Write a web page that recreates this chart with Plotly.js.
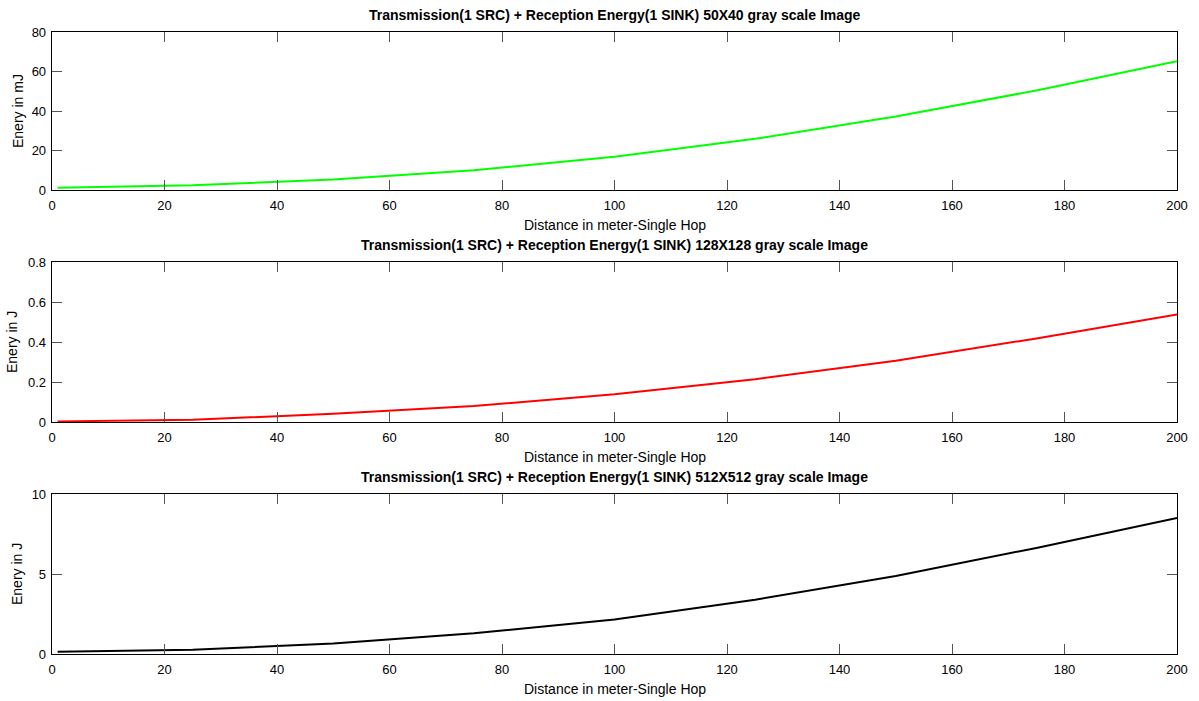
<!DOCTYPE html>
<html>
<head>
<meta charset="utf-8">
<script src="https://cdn.plot.ly/plotly-3.0.1.min.js"></script>
<style>html,body{margin:0;padding:0;background:#fff;}#chart{width:1199px;height:701px;}</style>
</head>
<body>
<div id="chart"></div>
<script>
// Distance in meters (single hop)
const distance = [1, 25, 50, 75, 100, 125, 150, 175, 200];
// 50X40 gray scale image energy (mJ)
const energy50x40 = [1.2, 2.4, 5.3, 10.0, 16.8, 25.9, 37.2, 50.4, 65.2];
// 128X128 gray scale image energy (J)
const energy128 = [0.003, 0.011, 0.041, 0.080, 0.139, 0.214, 0.306, 0.418, 0.537];
// 512X512 gray scale image energy (J)
const energy512 = [0.14, 0.26, 0.66, 1.30, 2.15, 3.39, 4.88, 6.63, 8.50];

const titles = [
  "Transmission(1 SRC) + Reception Energy(1 SINK) 50X40 gray scale Image",
  "Transmission(1 SRC) + Reception Energy(1 SINK) 128X128 gray scale Image",
  "Transmission(1 SRC) + Reception Energy(1 SINK) 512X512 gray scale Image"
];
const yTitles = ["Enery in mJ", "Enery in J", "Enery in J"];
const xTitle = "Distance in meter-Single Hop";
const xTicks = [0, 20, 40, 60, 80, 100, 120, 140, 160, 180, 200];

const FONT = "Liberation Sans, Arial, sans-serif";
const W = 1199, H = 701;
const mL = 52, mR = 22, mT = 32, mB = 47;
const plotH = H - mT - mB;
// pixel extents of each panel (top, bottom)
const panels = [[32, 190], [262, 422], [494, 654]];
const dom = panels.map(p => [(H - mB - p[1]) / plotH, (H - mB - p[0]) / plotH]);

function xaxis(anchor) {
  return {
    domain: [0, 1], anchor: anchor, range: [0, 200], tickvals: xTicks,
    ticks: "inside", ticklen: 10, tickwidth: 1, tickcolor: "#555",
    showline: true, linecolor: "#000", linewidth: 1.3, mirror: "ticks",
    showgrid: false, zeroline: false, ticklabelstandoff: 3,
    tickfont: {family: FONT, size: 13, color: "#000"}
  };
}
function yaxis(anchor, dmn, range, tv) {
  return {
    domain: dmn, anchor: anchor, range: range, tickvals: tv,
    ticks: "inside", ticklen: 10, tickwidth: 1, tickcolor: "#555",
    showline: true, linecolor: "#000", linewidth: 1.3, mirror: "ticks",
    showgrid: false, zeroline: false, ticklabelstandoff: 2,
    tickfont: {family: FONT, size: 13, color: "#000"}
  };
}

const data = [
  {x: distance, y: energy50x40, type: "scatter", mode: "lines", line: {color: "#00ff00", width: 2}, xaxis: "x", yaxis: "y"},
  {x: distance, y: energy128, type: "scatter", mode: "lines", line: {color: "#ff0000", width: 2}, xaxis: "x2", yaxis: "y2"},
  {x: distance, y: energy512, type: "scatter", mode: "lines", line: {color: "#000000", width: 2}, xaxis: "x3", yaxis: "y3"}
];

const annotations = [];
const ytOffsets = [-34, -40, -35];
for (let i = 0; i < 3; i++) {
  annotations.push({
    text: "<b>" + titles[i] + "</b>", xref: "paper", yref: "paper", x: 0.5, y: dom[i][1],
    xanchor: "center", yanchor: "bottom", yshift: 7, showarrow: false,
    font: {family: FONT, size: 14, color: "#000"}
  });
  annotations.push({
    text: xTitle, xref: "paper", yref: "paper", x: 0.5, y: dom[i][0],
    xanchor: "center", yanchor: "top", yshift: -25, showarrow: false,
    font: {family: FONT, size: 14, color: "#000"}
  });
  annotations.push({
    text: yTitles[i], xref: "paper", yref: "paper", x: 0, y: (dom[i][0] + dom[i][1]) / 2,
    xanchor: "center", yanchor: "middle", xshift: ytOffsets[i], textangle: -90, showarrow: false,
    font: {family: FONT, size: 14, color: "#000"}
  });
}

const layout = {
  width: W, height: H,
  margin: {l: mL, r: mR, t: mT, b: mB},
  paper_bgcolor: "#fff", plot_bgcolor: "#fff",
  showlegend: false,
  xaxis: xaxis("y"),
  yaxis: yaxis("x", dom[0], [0, 80], [0, 20, 40, 60, 80]),
  xaxis2: xaxis("y2"),
  yaxis2: yaxis("x2", dom[1], [0, 0.8], [0, 0.2, 0.4, 0.6, 0.8]),
  xaxis3: xaxis("y3"),
  yaxis3: yaxis("x3", dom[2], [0, 10], [0, 5, 10]),
  annotations: annotations
};

Plotly.newPlot("chart", data, layout, {displayModeBar: false, staticPlot: true});
</script>
</body>
</html>
